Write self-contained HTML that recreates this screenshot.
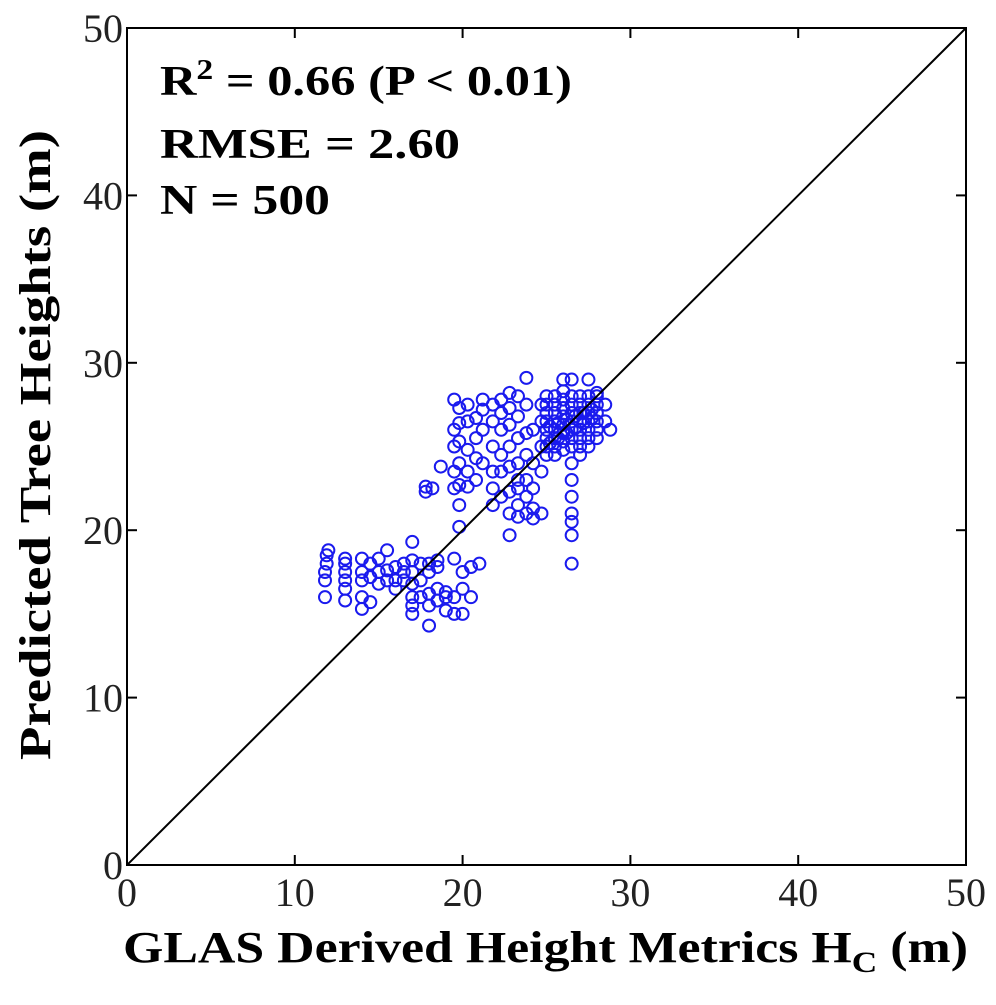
<!DOCTYPE html>
<html><head><meta charset="utf-8"><style>
body{margin:0;background:#fff;}
svg text{font-family:"Liberation Serif",serif;}
</style></head><body>
<svg id="chart" width="996" height="1000" xmlns="http://www.w3.org/2000/svg">
<g id="marks"></g>
<g id="axes"></g>
<text x="160" y="95" font-size="42" font-weight="bold" textLength="412" lengthAdjust="spacingAndGlyphs">R<tspan dy="-16" font-size="28">2</tspan><tspan dy="16"> = 0.66 (P &lt; 0.01)</tspan></text>
<text x="160" y="158" font-size="42" font-weight="bold" textLength="300" lengthAdjust="spacingAndGlyphs">RMSE = 2.60</text>
<text x="160" y="214" font-size="42" font-weight="bold" textLength="170" lengthAdjust="spacingAndGlyphs">N = 500</text>
<text x="123" y="962" font-size="44" font-weight="bold" textLength="845" lengthAdjust="spacingAndGlyphs">GLAS Derived Height Metrics H<tspan dy="10" font-size="30">C</tspan><tspan dy="-10"> (m)</tspan></text>
<text transform="translate(50,760) rotate(-90)" font-size="44" font-weight="bold" textLength="630" lengthAdjust="spacingAndGlyphs">Predicted Tree Heights (m)</text>
</svg>
<script>
const xTicks=[0,10,20,30,40,50];
const yTicks=[0,10,20,30,40,50];
const xs=[11.8,11.8,11.8,11.9,11.9,12,13,13,13,13,13,13,14,14,14,14,14,14.5,14.5,14.5,15,15,15,15.5,15.5,15.5,16,16,16,16.5,16.5,16.5,17,17,17,17,17,17,17,17.5,17.5,17.5,18,18,18,18,18,18.5,18.5,18.5,18.5,19,19,19,19.5,19.5,19.5,20,20,20,20.5,20.5,21,
17.8,17.8,18.2,18.7,19.5,19.5,19.5,19.5,19.5,19.8,19.8,19.8,19.8,19.8,19.8,19.8,20.3,20.3,20.3,20.3,20.3,20.8,20.8,20.8,20.8,21.2,21.2,21.2,21.2,21.8,21.8,21.8,21.8,21.8,21.8,22.3,22.3,22.3,22.3,22.3,22.3,22.8,22.8,22.8,22.8,22.8,22.8,22.8,22.8,23.3,23.3,23.3,23.3,23.3,23.3,23.3,23.3,23.8,23.8,23.8,23.8,23.8,23.8,23.8,24.2,24.2,24.2,24.2,24.2,24.7,24.7,24.7,24.7,24.7,
25,25,25,25,25,25,25,25,25.5,25.5,25.5,25.5,25.5,25.5,25.5,25.5,26,26,26,26,26,26,26,26,26,26.5,26.5,26.5,26.5,26.5,26.5,26.5,26.5,26.5,26.5,26.5,26.5,26.5,26.5,26.5,27,27,27,27,27,27,27,27,27.5,27.5,27.5,27.5,27.5,27.5,27.5,27.5,28,28,28,28,28,28,28,28.5,28.5,28.8,
25.2,25.7,26.2,26.7,27.2,27.7,25.2,25.7,26.2,26.7,27.2,27.7];
const ys=[16,17,17.5,18,18.5,18.8,15.8,16.5,17,17.5,18,18.3,15.3,16,17,17.5,18.3,15.7,17.2,18,16.8,17.5,18.3,17,17.6,18.8,16.5,17,17.8,17,17.5,18,15,15.5,16,16.8,17.5,18.2,19.3,16,17,18,14.3,15.5,16.2,17.5,18,15.8,16.5,17.8,18.2,15.2,16,16.3,15,16,18.3,15,16.5,17.5,16,17.8,18,
22.3,22.6,22.5,23.8,22.5,23.5,25,26,27.8,20.2,21.5,22.7,24,25.3,26.4,27.3,22.6,23.5,24.8,26.5,27.5,23,24.3,25.5,26.7,24,26,27.2,27.8,21.5,22.5,23.5,25,26.5,27.5,22,23.5,24.5,26,27,27.8,19.7,21,22.3,23.8,25,26.3,27.3,28.2,20.8,21.5,22.5,23,24,25.5,26.8,28,21,22,23,24.5,25.8,27.5,29.1,20.7,21.3,22.5,24,26,21,23.5,25,26.5,27.5,
24.5,25,25.5,26,26.5,27,27.5,28,24.5,25,25.5,26,26.5,27,27.5,28,24.8,25.3,25.8,26.3,26.8,27.3,27.8,28.3,29,18,19.7,20.5,21,22,23,24,25,25.5,26,26.5,27,27.5,28,29,24.5,25,25.5,26,26.5,27,27.5,28,25,25.5,26,26.5,27,27.5,28,29,25.5,26,26.5,27,27.5,28,28.2,26.5,27.5,26,
26.2,26.4,26.6,26.8,27.0,27.2,25.2,25.5,25.8,26.1,26.4,26.7];
const L=127,R=966,T=28,B=865;
const sx=v=>L+(v-0)/(50-0)*(R-L);
const sy=v=>B-(v-0)/(50-0)*(B-T);
const NS="http://www.w3.org/2000/svg";
const marks=document.getElementById('marks');
for(let i=0;i<xs.length;i++){
 const c=document.createElementNS(NS,'circle');
 c.setAttribute('cx',sx(xs[i]));c.setAttribute('cy',sy(ys[i]));c.setAttribute('r',6);
 c.setAttribute('fill','none');c.setAttribute('stroke','#1a1aee');c.setAttribute('stroke-width','2');
 
 
 marks.appendChild(c);
}
const ax=document.getElementById('axes');
function el(tag,attrs){const e=document.createElementNS(NS,tag);for(const k in attrs)e.setAttribute(k,attrs[k]);ax.appendChild(e);return e;}
const line=el('line',{x1:sx(0),y1:sy(0),x2:sx(50),y2:sy(50),stroke:'#000','stroke-width':2});


const box=el('rect',{x:L,y:T,width:R-L,height:B-T,fill:'none',stroke:'#000','stroke-width':2});


xTicks.forEach(t=>{
 el('line',{x1:sx(t),y1:B,x2:sx(t),y2:B-10,stroke:'#000','stroke-width':2});
 el('line',{x1:sx(t),y1:T,x2:sx(t),y2:T+10,stroke:'#000','stroke-width':2});
 const tx=el('text',{x:sx(t),y:B+41,'font-size':40,'text-anchor':'middle',fill:'#222'});tx.textContent=t;
 
 
});
yTicks.forEach(t=>{
 el('line',{x1:L,y1:sy(t),x2:L+10,y2:sy(t),stroke:'#000','stroke-width':2});
 el('line',{x1:R,y1:sy(t),x2:R-10,y2:sy(t),stroke:'#000','stroke-width':2});
 const ty=el('text',{x:L-4,y:sy(t)+14,'font-size':40,'text-anchor':'end',fill:'#222'});ty.textContent=t;
 
 
});
</script>
</body></html>
